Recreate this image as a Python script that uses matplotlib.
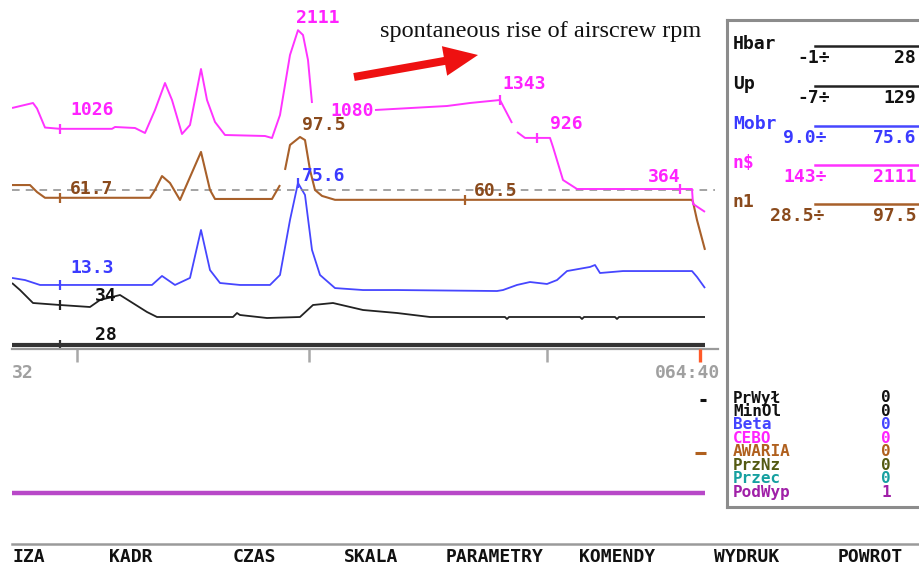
import numpy as np
import matplotlib
matplotlib.use("Agg")
import matplotlib.pyplot as plt
from matplotlib.patches import FancyArrow

nan = np.nan

# ---------------- data ----------------
# sample index along the time axis
pink_t = [0, 21, 25, 33, 48, 100, 103, 123, 133, 143, 153, 160, 170, 178, 189, 195, 203, 213, 253, 260,
          268, 278, 286, 291, 296, 300, nan, 363, 435, 458, 488, 500, nan, 505, 513, 525, 538, 541, 551,
          565, 668, 680, 681, 693]
pink_v = [1255, 1310, 1250, 1040, 1026, 1026, 1046, 1035, 980, 1233, 1530, 1343, 969, 1068, 1684, 1343,
          1101, 958, 947, 925, 1178, 1838, 2111, 2058, 1783, 1310, nan, 1233, 1277, 1310, 1343, 1090, nan,
          991, 926, 926, 926, 826, 463, 364, 364, 364, 200, 112]

brown_t = [0, 18, 25, 33, 48, 138, 143, 150, 158, 168, 189, 198, 203, 260, 268, nan, 273, 278, 288, 293,
           298, 303, 310, 323, 453, 680, 681, 685, 693]
brown_v = [69.2, 69.2, 65.1, 61.7, 61.7, 61.7, 66.3, 74.5, 70.4, 60.4, 88.7, 66.3, 61.0, 61.0, 69.2, nan,
           78.1, 92.8, 97.5, 95.7, 78.1, 66.3, 62.8, 60.5, 60.5, 60.5, 59.2, 48.6, 31.0]

blue_t = [0, 13, 28, 48, 140, 150, 163, 178, 189, 198, 208, 228, 258, 268, 278, 286, 293, 300, 308, 323,
          351, 385, 485, 491, 505, 518, 535, 545, 555, 578, 583, 588, 611, 680, 685, 693]
blue_v = [17.6, 16.3, 13.3, 13.3, 13.3, 18.8, 13.3, 17.6, 46.9, 22.4, 14.5, 13.3, 13.3, 19.4, 53.0, 75.6,
          68.3, 34.7, 19.4, 11.4, 10.2, 10.2, 9.6, 10.2, 13.3, 15.1, 13.9, 16.3, 21.8, 24.3, 25.5, 20.6,
          21.8, 21.8, 18.2, 11.4]

black_t = [0, 8, 21, 48, 78, 88, 108, 135, 145, 221, 225, 228, 255, 288, 301, 321, 351, 385, 418, 493,
           495, 497, 568, 570, 572, 603, 605, 607, 693]
black_v = [45, 41.5, 35, 34, 33, 36.5, 39, 30.5, 28, 28, 30, 29, 27.5, 28, 34, 35, 31.5, 30, 28, 28,
           27, 28, 28, 27, 28, 28, 27, 28, 28]

hbar_t = [0, 693]
hbar_v = [28, 28]

ref_level = 66.0          # dashed reference line (n1 units)

pink_marks = [48, 488, 525, 668]
brown_marks = [48, 453]
blue_marks = [48, 286]
black_marks = [48]
hbar_marks = [48]

value_labels = [  # text, colour key
    ("2111", "pink"), ("1026", "pink"), ("1080", "pink"), ("1343", "pink"), ("926", "pink"), ("364", "pink"),
    ("97.5", "brown"), ("61.7", "brown"), ("60.5", "brown"),
    ("75.6", "blue"), ("13.3", "blue"),
    ("34", "black"), ("28", "black"),
]

param_names = ["Hbar", "Up", "Mobr", "n$", "n1"]
param_min = ["-1÷", "-7÷", "9.0÷", "143÷", "28.5÷"]
param_max = ["28", "129", "75.6", "2111", "97.5"]
param_keys = ["black", "black", "blue", "pink", "brown"]

signal_names = ["PrWył", "MinOl", "Beta", "CEBO", "AWARIA", "PrzNz", "Przec", "PodWyp"]
signal_values = ["0", "0", "0", "0", "0", "0", "0", "1"]
signal_colors = ["#111111", "#111111", "#4444ff", "#ff22ff", "#b0601e", "#545a12", "#16a0a0", "#a020a8"]
signal_on = {"PrWył": (688, 694), "AWARIA": (683, 694), "PodWyp": (0, 693)}

menu_items = ["IZA", "KADR", "CZAS", "SKALA", "PARAMETRY", "KOMENDY", "WYDRUK", "POWROT"]
time_ticks = [65, 297, 535]
time_left_label = "32"
time_right_label = "064:40"
annotation = "spontaneous rise of airscrew rpm"

# ---------------- styling / layout ----------------
W, H = 919, 568
C = {"pink": "#ff33ff", "brown": "#a8602a", "blue": "#4646ff", "black": "#222222"}
CT = {"pink": "#ff22ff", "brown": "#8a4a1c", "blue": "#3a3aff", "black": "#111111"}
MONO = "DejaVu Sans Mono"

fig = plt.figure(figsize=(W / 100, H / 100), dpi=100)
fig.patch.set_facecolor("white")

X0, X1 = 12, 718          # pixel extent of the time axis
Y_TOP, Y_BOT = 20, 349    # pixel extent of the trend area


def add_px_axes(x0, x1, ytop, ybot):
    ax = fig.add_axes([x0 / W, 1 - ybot / H, (x1 - x0) / W, (ybot - ytop) / H])
    ax.set_facecolor("none")
    return ax


def ylim_for(v_ref, y_ref, upp):
    return (v_ref - (Y_BOT - y_ref) * upp, v_ref + (y_ref - Y_TOP) * upp)


series = [
    (hbar_t, hbar_v, hbar_marks, "#333333", 3.0, ylim_for(28, 345, 0.2)),
    (black_t, black_v, black_marks, C["black"], 1.3, ylim_for(34, 305, 0.5)),
    (blue_t, blue_v, blue_marks, C["blue"], 1.3, ylim_for(75.6, 183, 0.611)),
    (brown_t, brown_v, brown_marks, C["brown"], 1.5, ylim_for(97.5, 137, 0.589)),
    (pink_t, pink_v, pink_marks, C["pink"], 1.4, ylim_for(1343, 100, 11.0)),
]

axes = []
for i, (t, v, marks, col, lw, ylim) in enumerate(series):
    ax = add_px_axes(X0, X1, Y_TOP, Y_BOT)
    ax.set_xlim(0, X1 - X0)
    ax.set_ylim(*ylim)
    t_arr = np.array(t, float)
    v_arr = np.array(v, float)
    ax.plot(t_arr, v_arr, color=col, lw=lw, solid_capstyle="butt")
    ok = ~np.isnan(t_arr)
    mv = np.interp(marks, t_arr[ok], v_arr[ok])
    ax.plot(marks, mv, ls="none", marker="|", ms=7, mew=1.6, color=col)
    if col == C["brown"]:
        ax.plot([0, 703], [ref_level, ref_level], color="#8a8a8a", lw=1.1, ls=(0, (5, 4)), zorder=0)
    if i == 0:
        # time axis on the bottom spine
        for s in ["top", "right", "left"]:
            ax.spines[s].set_visible(False)
        ax.spines["bottom"].set_color("#9a9a9a")
        ax.spines["bottom"].set_linewidth(1.6)
        ax.set_yticks([])
        ax.set_xticks(time_ticks)
        ax.set_xticklabels([])
        ax.tick_params(axis="x", direction="out", length=9, width=1.8, color="#a8a8a8")
    else:
        ax.axis("off")
    axes.append(ax)

# lower panel with digital signals
lax = add_px_axes(X0, X1, 390, 500)
lax.set_xlim(0, X1 - X0)
lax.set_ylim(7.52, -0.75)
lax.axis("off")
for i, name in enumerate(signal_names):
    if name in signal_on:
        a, b = signal_on[name]
        lw = 3.2 if name == "PodWyp" else 2.2
        col = "#b848c8" if name == "PodWyp" else signal_colors[i]
        lax.plot([a, b], [i, i], color=col, lw=lw, solid_capstyle="butt")

# ---------------- overlay (text, frames, menu) ----------------
ov = fig.add_axes([0, 0, 1, 1])
ov.set_xlim(0, W)
ov.set_ylim(H, 0)
ov.axis("off")
ov.set_facecolor("none")

FS = 13
label_pos = [(296, 18), (70, 110), (330, 111), (502, 84), (550, 124), (648, 177),
             (302, 125), (70, 189), (474, 191),
             (302, 176), (70, 268),
             (95, 296), (95, 335)]
for (txt, key), (x, y) in zip(value_labels, label_pos):
    ov.text(x, y, txt, color=CT[key], fontsize=FS, family=MONO, fontweight="bold", ha="left", va="center")

# time labels + red cursor
ov.text(12, 373, time_left_label, color="#a0a0a0", fontsize=FS, family=MONO, fontweight="bold",
        ha="left", va="center")
ov.text(720, 373, time_right_label, color="#a0a0a0", fontsize=FS, family=MONO, fontweight="bold",
        ha="right", va="center")
ov.plot([700, 700], [349, 362], color="#ff5a28", lw=2.4, solid_capstyle="butt")

# annotation and arrow
ov.text(380, 31, annotation, family="Liberation Serif", fontsize=17.5, color="#111111", ha="left", va="center")
ov.add_patch(FancyArrow(354, 77, 124, -22, width=8, head_width=30, head_length=34,
                        length_includes_head=True, color="#ee1111", lw=0))

# right panel frame
frame_col = "#8c8c8c"
ov.plot([727, 919], [20, 20], color=frame_col, lw=2.2)
ov.plot([727, 727], [20, 507], color=frame_col, lw=2.2)
ov.plot([727, 919], [507, 507], color=frame_col, lw=2.2)

row_y = [44, 84, 124, 163, 202]
for i, name in enumerate(param_names):
    y = row_y[i]
    col = CT[param_keys[i]]
    lcol = C[param_keys[i]] if param_keys[i] != "black" else "#222222"
    ov.text(733, y, name, color=col, fontsize=FS, family=MONO, fontweight="bold", ha="left", va="center")
    ov.plot([815, 919], [y + 1.5, y + 1.5], color=lcol, lw=1.8)
    xmin = 797 if i < 2 else (770 if i == 4 else 783)
    ov.text(xmin, y + 14, param_min[i], color=col, fontsize=FS, family=MONO, fontweight="bold",
            ha="left", va="center")
    ov.text(916, y + 14, param_max[i], color=col, fontsize=FS, family=MONO, fontweight="bold",
            ha="right", va="center")

for i, name in enumerate(signal_names):
    y = 398 + 13.45 * i
    ov.text(733, y, name, color=signal_colors[i], fontsize=11.5, family=MONO, fontweight="bold",
            ha="left", va="center")
    ov.text(886, y, signal_values[i], color=signal_colors[i], fontsize=11.5, family=MONO, fontweight="bold",
            ha="center", va="center")

# bottom menu
ov.plot([12, 919], [544, 544], color="#9a9a9a", lw=1.8)
menu_x = [12, 131, 254, 371, 495, 617, 747, 870]
for i, item in enumerate(menu_items):
    ov.text(menu_x[i], 557, item, color="#111111", fontsize=FS, family=MONO, fontweight="bold",
            ha="left" if i == 0 else "center", va="center")

fig.savefig("out.png", dpi=100, facecolor="white")
